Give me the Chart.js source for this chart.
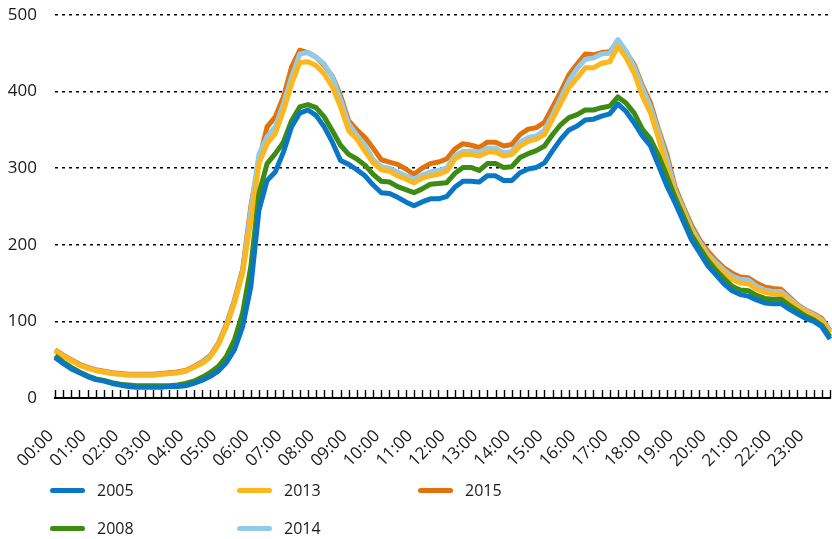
<!DOCTYPE html>
<html>
<head>
<meta charset="utf-8">
<script src="https://cdn.jsdelivr.net/npm/chart.js@4.4.1/dist/chart.umd.min.js"></script>
<style>
  body { margin: 0; background: #fff; }
  #wrap { position: relative; width: 832px; height: 539px; }
  .leg { position: absolute; font: 16px 'Open Sans', sans-serif; color: #1a1a1a; line-height: 20px; }
  .leg i { display: inline-block; width: 35px; height: 5px; border-radius: 3px; vertical-align: middle; margin-right: 12px; position: relative; top: -1px; }
</style>
</head>
<body>
<div id="wrap">
  <canvas id="loadChart" width="832" height="539"></canvas>
  <div id="legend"></div>
</div>
<script>
// hour tick labels, each hour has 4 quarter points
const hourLabels = ['00:00','01:00','02:00','03:00','04:00','05:00','06:00','07:00','08:00','09:00','10:00','11:00',
  '12:00','13:00','14:00','15:00','16:00','17:00','18:00','19:00','20:00','21:00','22:00','23:00'];
const quarters = ['00', '15', '30', '45'];
const categories = hourLabels.flatMap(h => quarters.map(q => h.slice(0, 3) + q));

const series2005 = [53,45,38,33,28,24,22,19,17,15,14,14,14,14,15,15,16,19,23,28,
  35,46,63,93,145,245,284,295,321,354,372,376,369,354,334,310,
  305,298,290,278,268,267,262,256,251,256,260,260,263,275,283,283,
  282,290,290,284,284,294,299,
  301,307,323,338,350,355,363,364,368,371,384,374,359,342,329,303,277,
  255,231,207,190,173,161,149,140,135,133,128,124,123,123,116,110,104,100,93,77];

const series2008 = [55,47,40,34,29,25,23,20,18,17,16,16,16,16,16,17,19,22,27,33,
  41,54,76,111,171,267,306,319,334,362,380,383,379,367,349,330,
  318,312,304,292,283,282,276,272,268,273,279,280,281,293,301,301,
  297,306,306,301,302,314,319,
  323,329,344,357,366,370,376,376,379,381,393,385,372,351,338,316,290,
  262,238,213,196,180,167,156,146,141,140,134,130,129,129,121,114,107,102,95,80];

const series2013 = [62,55,49,43,39,36,34,32,31,30,30,30,30,31,32,33,35,40,45,53,
  69,93,124,163,232,306,332,345,375,410,438,439,434,423,406,380,
  349,338,322,307,298,296,290,286,281,287,290,292,296,312,318,318,
  316,321,321,316,318,329,335,
  338,344,364,385,405,418,431,431,437,439,459,444,424,394,372,338,300,
  268,243,218,200,185,173,163,155,150,149,142,138,136,135,127,119,112,107,100,85];

const series2014 = [62,55,49,43,39,36,34,32,31,30,30,30,30,31,32,33,35,40,46,54,
  70,94,126,165,245,318,341,354,384,419,449,451,445,436,419,390,
  358,343,330,311,302,300,295,290,286,291,295,297,300,316,322,322,
  321,326,326,320,322,334,340,
  342,350,370,392,414,430,442,444,449,450,468,453,432,405,380,347,312,
  272,247,222,204,188,177,167,159,155,154,146,141,139,139,130,121,114,109,102,87];

const series2015 = [63,56,50,44,40,37,35,33,32,31,31,31,31,32,33,34,36,41,47,55,
  71,96,128,168,250,310,354,367,393,432,454,451,445,434,420,395,
  362,350,340,326,311,308,305,299,292,300,306,308,312,325,332,330,
  327,334,334,329,331,344,351,
  353,360,380,400,422,436,449,448,451,452,466,452,435,408,385,350,318,
  276,250,226,207,192,180,170,163,158,157,150,145,143,142,132,122,115,110,104,88];

const years = ['2005', '2008', '2013', '2014', '2015'];
const colors = ['#0a77c6', '#3d8b13', '#fdb61c', '#92cbe9', '#e2720c'];
const allSeries = [series2005, series2008, series2013, series2014, series2015];

// legend slots (column-major, 2 rows like the original)
const legendPos = { '2005': [50, 480], '2008': [50, 518], '2013': [237, 480], '2014': [237, 518], '2015': [418, 480] };

const legendEl = document.getElementById('legend');
years.forEach((y, k) => {
  const d = document.createElement('div');
  d.className = 'leg';
  d.style.left = legendPos[y][0] + 'px';
  d.style.top = legendPos[y][1] + 'px';
  d.innerHTML = `<i style="background:${colors[k]}"></i>${y}`;
  legendEl.appendChild(d);
});

// small tick marks pointing up from the x axis
const tickMarks = {
  id: 'tickMarks',
  afterDraw(chart) {
    const xs = chart.scales.x;
    const c = chart.ctx;
    const bottom = chart.chartArea.bottom;
    c.save();
    c.strokeStyle = '#000';
    c.lineWidth = 1.4;
    c.beginPath();
    for (let i = 0; i < categories.length; i++) {
      const px = Math.round(xs.getPixelForValue(i)) + 0.5;
      c.moveTo(px, bottom);
      c.lineTo(px, bottom - 8);
    }
    c.stroke();
    c.restore();
  }
};

const ctx = document.getElementById('loadChart').getContext('2d');
const loadChart = new Chart(ctx, {
  type: 'line',
  data: {
    labels: categories,
    datasets: years.map((y, k) => ({
      label: y,
      data: allSeries[k],
      borderColor: colors[k],
      backgroundColor: colors[k],
      borderWidth: 5,
      pointRadius: 0,
      tension: 0,
      borderJoinStyle: 'round'
    }))
  },
  options: {
    responsive: false,
    animation: false,
    layout: { padding: { top: 15, right: 2, bottom: 71, left: 0 } },
    plugins: { legend: { display: false }, tooltip: { enabled: false } },
    scales: {
      x: {
        grid: { display: false, drawTicks: false },
        border: { display: true, color: '#000', width: 2 },
        afterFit(s) { s.height = 70; s.paddingLeft = 0; s.paddingRight = 0; },
        ticks: {
          autoSkip: false,
          minRotation: 45,
          maxRotation: 45,
          padding: 28,
          labelOffset: -4,
          color: '#1a1a1a',
          font: { family: 'Open Sans', size: 17 },
          callback(v, i) { return i % 4 === 0 ? categories[i] : ''; }
        }
      },
      y: {
        min: 0,
        max: 500,
        grid: {
          drawTicks: false,
          lineWidth: 1.5,
          color: c => c.tick.value === 0 ? 'rgba(0,0,0,0)' : '#000'
        },
        border: { display: false, dash: [3, 4] },
        afterFit(s) { s.width = 55; s.paddingTop = 0; s.paddingBottom = 0; },
        ticks: {
          stepSize: 100,
          padding: 18,
          color: '#1a1a1a',
          font: { family: 'Open Sans', size: 17 }
        }
      }
    }
  },
  plugins: [tickMarks]
});
</script>
</body>
</html>
